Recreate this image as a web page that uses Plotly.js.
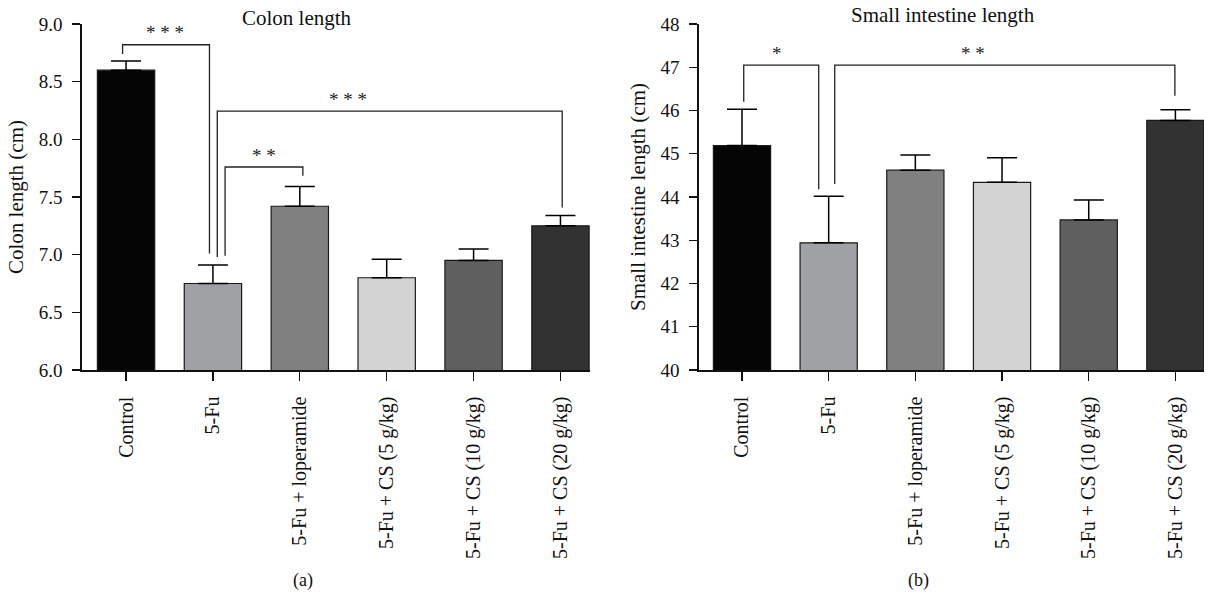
<!DOCTYPE html>
<html>
<head>
<meta charset="utf-8">
<script src="https://cdn.plot.ly/plotly-3.0.1.min.js"></script>
<style>html,body{margin:0;padding:0;background:#fff;}#chart{width:1215px;height:597px;}</style>
</head>
<body>
<div id="chart"></div>
<script>
// ---- data ----
var categories = ['Control', '5-Fu', '5-Fu + loperamide', '5-Fu + CS (5 g/kg)', '5-Fu + CS (10 g/kg)', '5-Fu + CS (20 g/kg)'];
var colonMean = [8.60, 6.75, 7.42, 6.80, 6.95, 7.25];
var colonErr  = [0.08, 0.16, 0.17, 0.16, 0.10, 0.09];
var smallMean = [45.19, 42.94, 44.62, 44.34, 43.47, 45.77];
var smallErr  = [0.84, 1.08, 0.35, 0.57, 0.46, 0.25];
var barColors = ['#050505', '#a0a1a5', '#808080', '#d3d3d3', '#5e5f5e', '#313231'];

// significance brackets: [fromGroup, toGroup, fromLegBottom, toLegBottom, bracketLevel, label, labelGroupPos]
var colonSig = [
  [0, 1, 8.74, 7.01, 8.82, '* * *', 0.45],
  [1, 2, 6.99, 7.685, 7.76, '* *', 1.59],
  [1, 5, 6.98, 7.41, 8.245, '* * *', 2.56]
];
var colonLegOffset = [[-0.04, -0.04], [0.14, 0.035], [0.05, 0.02]];
var smallSig = [
  [0, 1, 46.2, 44.18, 47.05, '*', 0.40],
  [1, 5, 44.3, 46.34, 47.05, '* *', 2.66]
];
var smallLegOffset = [[0.02, -0.115], [0.07, -0.006]];

var FONT = 'Liberation Serif, Times New Roman, serif';

function barTrace(y, err, xa, ya) {
  return {
    type: 'bar', x: categories, y: y, xaxis: xa, yaxis: ya,
    width: 0.66,
    marker: {color: barColors, line: {color: '#1a1a1a', width: 1.2}},
    error_y: {type: 'data', array: err, arrayminus: err.map(function(){return 0;}), symmetric: false,
              color: '#000', thickness: 1.5, width: 15},
    hoverinfo: 'x+y', showlegend: false
  };
}

var shapes = [], annotations = [];
function addBrackets(sig, offs, xr, yr) {
  sig.forEach(function(s, i) {
    var x0 = s[0] + offs[i][0], x1 = s[1] + offs[i][1];
    var path = 'M ' + x0 + ',' + s[2] + ' L ' + x0 + ',' + s[4] + ' L ' + x1 + ',' + s[4] + ' L ' + x1 + ',' + s[3];
    shapes.push({type: 'path', xref: xr, yref: yr, path: path, line: {color: '#222', width: 1.3}});
    annotations.push({xref: xr, yref: yr, x: s[6], y: s[4], text: s[5], showarrow: false,
      yanchor: 'middle', yshift: 12, font: {family: FONT, size: 19, color: '#222'}});
  });
}
addBrackets(colonSig, colonLegOffset, 'x', 'y');
addBrackets(smallSig, smallLegOffset, 'x2', 'y2');

annotations.push({xref: 'paper', yref: 'paper', x: 297/1215, y: 1 - 18/597, text: 'Colon length', showarrow: false,
  xanchor: 'center', yanchor: 'middle', font: {family: FONT, size: 21, color: '#111'}});
annotations.push({xref: 'paper', yref: 'paper', x: 943/1215, y: 1 - 15/597, text: 'Small intestine length', showarrow: false,
  xanchor: 'center', yanchor: 'middle', font: {family: FONT, size: 21, color: '#111'}});
annotations.push({xref: 'paper', yref: 'paper', x: 303/1215, y: 1 - 580/597, text: '(a)', showarrow: false,
  xanchor: 'center', yanchor: 'middle', font: {family: FONT, size: 18, color: '#111'}});
annotations.push({xref: 'paper', yref: 'paper', x: 918/1215, y: 1 - 580/597, text: '(b)', showarrow: false,
  xanchor: 'center', yanchor: 'middle', font: {family: FONT, size: 18, color: '#111'}});

var yDom = [(597 - 370) / 597, (597 - 24) / 597];
function xAxis(domain, range) {
  return {domain: domain, range: range, type: 'category', showline: true, linecolor: '#111', linewidth: 1.6,
    ticks: 'outside', ticklen: 9, tickwidth: 1.3, tickcolor: '#111', tickangle: -90, ticklabelstandoff: 8,
    tickfont: {family: FONT, size: 20, color: '#111'}, showgrid: false, zeroline: false, fixedrange: true};
}
function yAxis(range, dtick, fmt, title, anchor) {
  return {domain: yDom, range: range, dtick: dtick, tick0: range[0], tickformat: fmt, anchor: anchor,
    showline: true, linecolor: '#111', linewidth: 1.6, ticks: 'outside', ticklen: 8, tickwidth: 1.3, tickcolor: '#111',
    ticklabelstandoff: 6, tickfont: {family: FONT, size: 19, color: '#111'}, showgrid: false, zeroline: false,
    title: {text: title, standoff: 9, font: {family: FONT, size: 21, color: '#111'}}, fixedrange: true};
}

var layout = {
  width: 1215, height: 597,
  margin: {l: 0, r: 0, t: 0, b: 0},
  paper_bgcolor: '#fff', plot_bgcolor: '#fff',
  bargap: 0.34,
  xaxis: Object.assign(xAxis([82/1215, 590/1215], [-0.507, 5.34]), {anchor: 'y'}),
  yaxis: yAxis([6, 9], 0.5, '.1f', 'Colon length (cm)', 'x'),
  xaxis2: Object.assign(xAxis([699/1215, 1204/1215], [-0.496, 5.33]), {anchor: 'y2'}),
  yaxis2: yAxis([40, 48], 1, 'd', 'Small intestine length (cm)', 'x2'),
  shapes: shapes,
  annotations: annotations,
  showlegend: false
};

Plotly.newPlot('chart', [barTrace(colonMean, colonErr, 'x', 'y'), barTrace(smallMean, smallErr, 'x2', 'y2')], layout,
  {displayModeBar: false, staticPlot: true});
</script>
</body>
</html>
